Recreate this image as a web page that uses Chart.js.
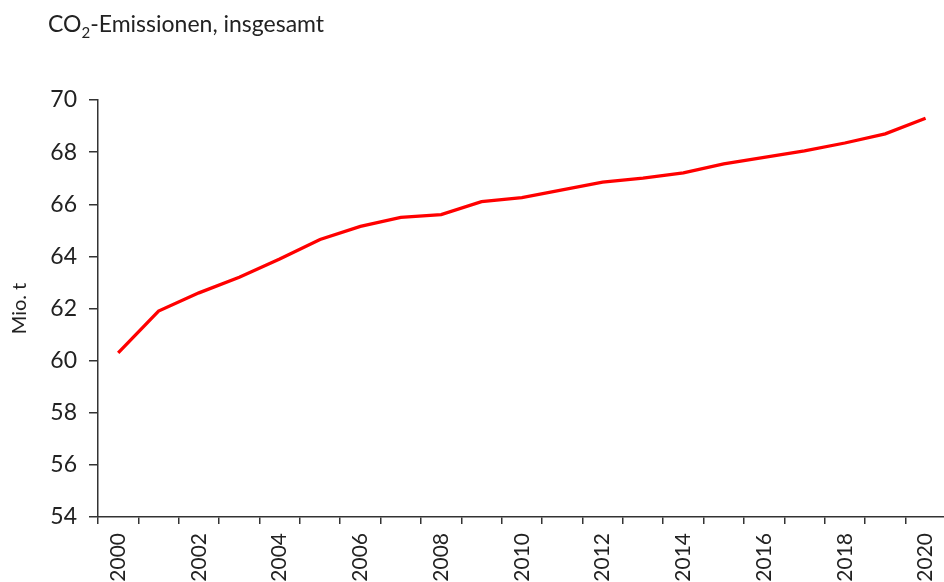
<!DOCTYPE html>
<html>
<head>
<meta charset="utf-8">
<script src="https://cdn.jsdelivr.net/npm/chart.js@4"></script>
<style>
    html, body { margin: 0; padding: 0; background: #fff; overflow: hidden; }
    #wrap { position: relative; width: 960px; height: 582px; }
    #title {
        position: absolute; left: 48px; top: 9px;
        font-family: Lato, sans-serif; font-size: 23px; color: #222;
    }
</style>
</head>
<body>
<div id="wrap">
    <div id="title">CO<sub style="font-size:15px">2</sub>-Emissionen, insgesamt</div>
    <canvas id="chart" width="960" height="582"></canvas>
</div>
<script>
// years on the x axis
const years = ['2000', '2001', '2002', '2003', '2004', '2005', '2006', '2007', '2008', '2009', '2010',
               '2011', '2012', '2013', '2014', '2015', '2016', '2017', '2018', '2019', '2020'];
// CO2 emissions, Mio. t
const emissions = [60.3, 61.9, 62.6, 63.2, 63.9, 64.65, 65.15, 65.5, 65.6, 66.1, 66.25,
                   66.55, 66.85, 67.0, 67.2, 67.55, 67.8, 68.05, 68.35, 68.7, 69.3];
const yMin = 54, yMax = 70, yStep = 2;

const axisColor = '#333';
const textColor = '#222';

let ctx = document.getElementById('chart').getContext('2d');

new Chart(ctx, {
    type: 'line',
    data: {
        labels: years,
        datasets: [{
            data: emissions,
            borderColor: '#ff0000',
            borderWidth: 3.3,
            pointRadius: 0,
            tension: 0,
            fill: false
        }]
    },
    options: {
        responsive: false,
        animation: false,
        layout: { padding: { top: 100, right: 9, left: 8, bottom: 0 } },
        plugins: { legend: { display: false }, tooltip: { enabled: false } },
        scales: {
            x: {
                type: 'category',
                offset: true,
                grid: {
                    offset: true,
                    drawOnChartArea: false,
                    drawTicks: true,
                    tickLength: 7,
                    tickColor: axisColor,
                    lineWidth: 1.5
                },
                border: { display: true, color: axisColor, width: 1.5 },
                ticks: {
                    autoSkip: false,
                    minRotation: 90,
                    maxRotation: 90,
                    padding: 9,
                    color: textColor,
                    font: { family: 'Lato', size: 21 },
                    callback: function(value, index) {
                        return index % 2 === 0 ? years[index] : '';
                    }
                },
                afterFit: function(scale) { scale.height = 65; }
            },
            y: {
                min: yMin,
                max: yMax,
                grid: {
                    drawOnChartArea: false,
                    drawTicks: true,
                    tickLength: 9,
                    tickColor: axisColor,
                    lineWidth: 1.5
                },
                border: { display: true, color: axisColor, width: 1.5 },
                ticks: {
                    stepSize: yStep,
                    padding: 12,
                    color: textColor,
                    font: { family: 'Lato', size: 23 }
                },
                title: {
                    display: true,
                    text: 'Mio. t',
                    color: textColor,
                    font: { family: 'Lato', size: 20 },
                    padding: { top: 0, bottom: 0 }
                },
                afterFit: function(scale) { scale.width = 90; }
            }
        }
    }
});
</script>
</body>
</html>
